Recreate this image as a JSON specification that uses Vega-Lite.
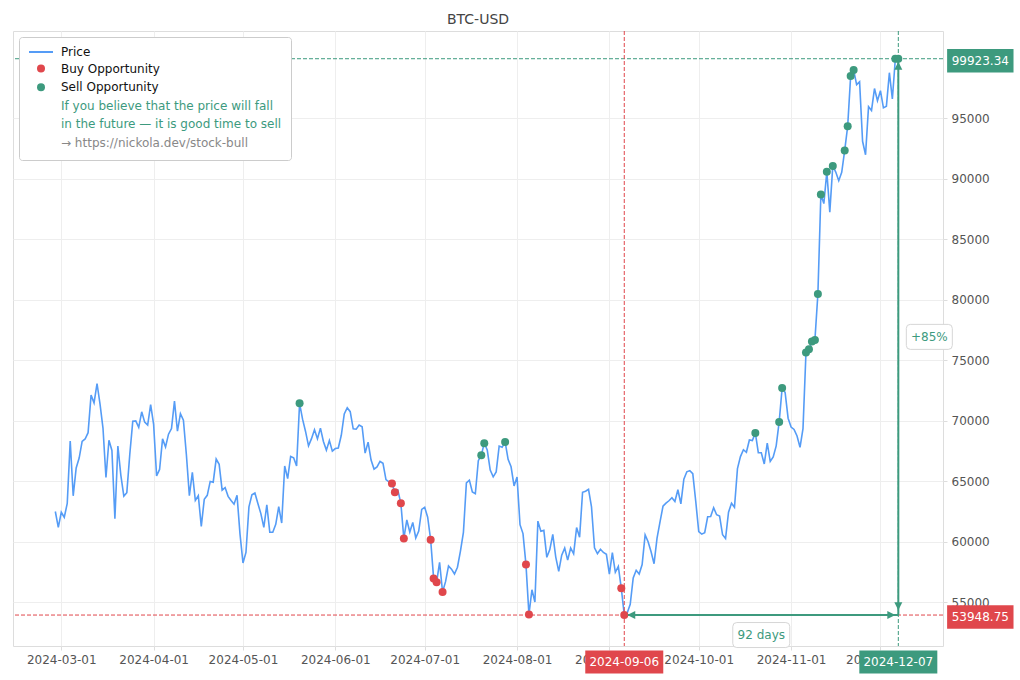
{
  "$schema": "https://vega.github.io/schema/vega-lite/v6.json",
  "width": 930,
  "height": 615,
  "autosize": "none",
  "padding": {"left": 13, "top": 31, "right": 77, "bottom": 34},
  "background": "white",
  "title": {"text": "BTC-USD", "fontSize": 14, "fontWeight": "normal", "color": "#444444", "offset": 4, "anchor": "middle", "font": "DejaVu Sans"},
  "config": {
    "font": "DejaVu Sans",
    "view": {"stroke": "#dddddd"},
    "axis": {"gridColor": "#eeeeee", "domain": false, "tickColor": "#dddddd", "labelColor": "#555555", "labelFontSize": 12, "tickSize": 4, "labelPadding": 4, "title": null}
  },
  "datasets": {
    "btc": [
      {"date": "2024-02-28", "price": 62504}, {"date": "2024-02-29", "price": 61198},
      {"date": "2024-03-01", "price": 62440}, {"date": "2024-03-02", "price": 62029}, {"date": "2024-03-03", "price": 63167}, {"date": "2024-03-04", "price": 68330}, {"date": "2024-03-05", "price": 63801}, {"date": "2024-03-06", "price": 66106}, {"date": "2024-03-07", "price": 66925}, {"date": "2024-03-08", "price": 68300}, {"date": "2024-03-09", "price": 68498}, {"date": "2024-03-10", "price": 69019}, {"date": "2024-03-11", "price": 72123}, {"date": "2024-03-12", "price": 71481}, {"date": "2024-03-13", "price": 73083}, {"date": "2024-03-14", "price": 71397}, {"date": "2024-03-15", "price": 69403}, {"date": "2024-03-16", "price": 65316}, {"date": "2024-03-17", "price": 68390}, {"date": "2024-03-18", "price": 67548}, {"date": "2024-03-19", "price": 61912}, {"date": "2024-03-20", "price": 67913}, {"date": "2024-03-21", "price": 65491}, {"date": "2024-03-22", "price": 63779}, {"date": "2024-03-23", "price": 64062}, {"date": "2024-03-24", "price": 67234}, {"date": "2024-03-25", "price": 69958}, {"date": "2024-03-26", "price": 69987}, {"date": "2024-03-27", "price": 69455}, {"date": "2024-03-28", "price": 70744}, {"date": "2024-03-29", "price": 69892}, {"date": "2024-03-30", "price": 69645}, {"date": "2024-03-31", "price": 71333},
      {"date": "2024-04-01", "price": 69702}, {"date": "2024-04-02", "price": 65446}, {"date": "2024-04-03", "price": 65980}, {"date": "2024-04-04", "price": 68508}, {"date": "2024-04-05", "price": 67837}, {"date": "2024-04-06", "price": 68896}, {"date": "2024-04-07", "price": 69362}, {"date": "2024-04-08", "price": 71631}, {"date": "2024-04-09", "price": 69139}, {"date": "2024-04-10", "price": 70587}, {"date": "2024-04-11", "price": 70060}, {"date": "2024-04-12", "price": 67195}, {"date": "2024-04-13", "price": 63821}, {"date": "2024-04-14", "price": 65738}, {"date": "2024-04-15", "price": 63426}, {"date": "2024-04-16", "price": 63811}, {"date": "2024-04-17", "price": 61276}, {"date": "2024-04-18", "price": 63512}, {"date": "2024-04-19", "price": 63843}, {"date": "2024-04-20", "price": 64994}, {"date": "2024-04-21", "price": 64927}, {"date": "2024-04-22", "price": 66837}, {"date": "2024-04-23", "price": 66407}, {"date": "2024-04-24", "price": 64276}, {"date": "2024-04-25", "price": 64482}, {"date": "2024-04-26", "price": 63755}, {"date": "2024-04-27", "price": 63419}, {"date": "2024-04-28", "price": 63114}, {"date": "2024-04-29", "price": 63842}, {"date": "2024-04-30", "price": 60637},
      {"date": "2024-05-01", "price": 58254}, {"date": "2024-05-02", "price": 59123}, {"date": "2024-05-03", "price": 62889}, {"date": "2024-05-04", "price": 63892}, {"date": "2024-05-05", "price": 64031}, {"date": "2024-05-06", "price": 63161}, {"date": "2024-05-07", "price": 62334}, {"date": "2024-05-08", "price": 61188}, {"date": "2024-05-09", "price": 63049}, {"date": "2024-05-10", "price": 60792}, {"date": "2024-05-11", "price": 60793}, {"date": "2024-05-12", "price": 61448}, {"date": "2024-05-13", "price": 62901}, {"date": "2024-05-14", "price": 61553}, {"date": "2024-05-15", "price": 66267}, {"date": "2024-05-16", "price": 65231}, {"date": "2024-05-17", "price": 67051}, {"date": "2024-05-18", "price": 66940}, {"date": "2024-05-19", "price": 66278}, {"date": "2024-05-20", "price": 71448, "signal": "Sell Opportunity"}, {"date": "2024-05-21", "price": 70136}, {"date": "2024-05-22", "price": 69122}, {"date": "2024-05-23", "price": 67929}, {"date": "2024-05-24", "price": 68526}, {"date": "2024-05-25", "price": 69265}, {"date": "2024-05-26", "price": 68518}, {"date": "2024-05-27", "price": 69394}, {"date": "2024-05-28", "price": 68296}, {"date": "2024-05-29", "price": 67578}, {"date": "2024-05-30", "price": 68365}, {"date": "2024-05-31", "price": 67491},
      {"date": "2024-06-01", "price": 67706}, {"date": "2024-06-02", "price": 67751}, {"date": "2024-06-03", "price": 68804}, {"date": "2024-06-04", "price": 70567}, {"date": "2024-06-05", "price": 71082}, {"date": "2024-06-06", "price": 70757}, {"date": "2024-06-07", "price": 69342}, {"date": "2024-06-08", "price": 69305}, {"date": "2024-06-09", "price": 69648}, {"date": "2024-06-10", "price": 69512}, {"date": "2024-06-11", "price": 67332}, {"date": "2024-06-12", "price": 68242}, {"date": "2024-06-13", "price": 66757}, {"date": "2024-06-14", "price": 66011}, {"date": "2024-06-15", "price": 66191}, {"date": "2024-06-16", "price": 66639}, {"date": "2024-06-17", "price": 66490}, {"date": "2024-06-18", "price": 65140}, {"date": "2024-06-19", "price": 64960}, {"date": "2024-06-20", "price": 64828, "signal": "Buy Opportunity"}, {"date": "2024-06-21", "price": 64096, "signal": "Buy Opportunity"}, {"date": "2024-06-22", "price": 64252}, {"date": "2024-06-23", "price": 63180, "signal": "Buy Opportunity"}, {"date": "2024-06-24", "price": 60277, "signal": "Buy Opportunity"}, {"date": "2024-06-25", "price": 61804}, {"date": "2024-06-26", "price": 60811}, {"date": "2024-06-27", "price": 61604}, {"date": "2024-06-28", "price": 60320}, {"date": "2024-06-29", "price": 60887}, {"date": "2024-06-30", "price": 62678},
      {"date": "2024-07-01", "price": 62851}, {"date": "2024-07-02", "price": 62029}, {"date": "2024-07-03", "price": 60173, "signal": "Buy Opportunity"}, {"date": "2024-07-04", "price": 56977, "signal": "Buy Opportunity"}, {"date": "2024-07-05", "price": 56662, "signal": "Buy Opportunity"}, {"date": "2024-07-06", "price": 58303}, {"date": "2024-07-07", "price": 55849, "signal": "Buy Opportunity"}, {"date": "2024-07-08", "price": 56705}, {"date": "2024-07-09", "price": 58009}, {"date": "2024-07-10", "price": 57742}, {"date": "2024-07-11", "price": 57344}, {"date": "2024-07-12", "price": 57899}, {"date": "2024-07-13", "price": 59231}, {"date": "2024-07-14", "price": 60787}, {"date": "2024-07-15", "price": 64870}, {"date": "2024-07-16", "price": 65097}, {"date": "2024-07-17", "price": 64118}, {"date": "2024-07-18", "price": 63974}, {"date": "2024-07-19", "price": 66710}, {"date": "2024-07-20", "price": 67163, "signal": "Sell Opportunity"}, {"date": "2024-07-21", "price": 68154, "signal": "Sell Opportunity"}, {"date": "2024-07-22", "price": 67585}, {"date": "2024-07-23", "price": 65927}, {"date": "2024-07-24", "price": 65372}, {"date": "2024-07-25", "price": 65777}, {"date": "2024-07-26", "price": 67912}, {"date": "2024-07-27", "price": 67813}, {"date": "2024-07-28", "price": 68255, "signal": "Sell Opportunity"}, {"date": "2024-07-29", "price": 66819}, {"date": "2024-07-30", "price": 66201}, {"date": "2024-07-31", "price": 64619},
      {"date": "2024-08-01", "price": 65357}, {"date": "2024-08-02", "price": 61415}, {"date": "2024-08-03", "price": 60680}, {"date": "2024-08-04", "price": 58116, "signal": "Buy Opportunity"}, {"date": "2024-08-05", "price": 53991, "signal": "Buy Opportunity"}, {"date": "2024-08-06", "price": 56034}, {"date": "2024-08-07", "price": 55027}, {"date": "2024-08-08", "price": 61710}, {"date": "2024-08-09", "price": 60880}, {"date": "2024-08-10", "price": 60945}, {"date": "2024-08-11", "price": 58719}, {"date": "2024-08-12", "price": 59354}, {"date": "2024-08-13", "price": 60609}, {"date": "2024-08-14", "price": 58737}, {"date": "2024-08-15", "price": 57560}, {"date": "2024-08-16", "price": 58894}, {"date": "2024-08-17", "price": 59478}, {"date": "2024-08-18", "price": 58483}, {"date": "2024-08-19", "price": 59493}, {"date": "2024-08-20", "price": 59012}, {"date": "2024-08-21", "price": 61175}, {"date": "2024-08-22", "price": 60381}, {"date": "2024-08-23", "price": 64094}, {"date": "2024-08-24", "price": 64178}, {"date": "2024-08-25", "price": 64333}, {"date": "2024-08-26", "price": 62880}, {"date": "2024-08-27", "price": 59504}, {"date": "2024-08-28", "price": 59027}, {"date": "2024-08-29", "price": 59389}, {"date": "2024-08-30", "price": 59119}, {"date": "2024-08-31", "price": 58969},
      {"date": "2024-09-01", "price": 57326}, {"date": "2024-09-02", "price": 59113}, {"date": "2024-09-03", "price": 57485}, {"date": "2024-09-04", "price": 57970}, {"date": "2024-09-05", "price": 56160, "signal": "Buy Opportunity"}, {"date": "2024-09-06", "price": 53948.75, "signal": "Buy Opportunity"}, {"date": "2024-09-07", "price": 54139}, {"date": "2024-09-08", "price": 54841}, {"date": "2024-09-09", "price": 57019}, {"date": "2024-09-10", "price": 57648}, {"date": "2024-09-11", "price": 57343}, {"date": "2024-09-12", "price": 58127}, {"date": "2024-09-13", "price": 60571}, {"date": "2024-09-14", "price": 60005}, {"date": "2024-09-15", "price": 59182}, {"date": "2024-09-16", "price": 58192}, {"date": "2024-09-17", "price": 60309}, {"date": "2024-09-18", "price": 61649}, {"date": "2024-09-19", "price": 62940}, {"date": "2024-09-20", "price": 63192}, {"date": "2024-09-21", "price": 63394}, {"date": "2024-09-22", "price": 63648}, {"date": "2024-09-23", "price": 63329}, {"date": "2024-09-24", "price": 64301}, {"date": "2024-09-25", "price": 63143}, {"date": "2024-09-26", "price": 65181}, {"date": "2024-09-27", "price": 65790}, {"date": "2024-09-28", "price": 65887}, {"date": "2024-09-29", "price": 65635}, {"date": "2024-09-30", "price": 63330},
      {"date": "2024-10-01", "price": 60837}, {"date": "2024-10-02", "price": 60632}, {"date": "2024-10-03", "price": 60759}, {"date": "2024-10-04", "price": 62067}, {"date": "2024-10-05", "price": 62089}, {"date": "2024-10-06", "price": 62818}, {"date": "2024-10-07", "price": 62236}, {"date": "2024-10-08", "price": 62131}, {"date": "2024-10-09", "price": 60582}, {"date": "2024-10-10", "price": 60275}, {"date": "2024-10-11", "price": 62445}, {"date": "2024-10-12", "price": 63193}, {"date": "2024-10-13", "price": 62851}, {"date": "2024-10-14", "price": 66046}, {"date": "2024-10-15", "price": 67041}, {"date": "2024-10-16", "price": 67612}, {"date": "2024-10-17", "price": 67399}, {"date": "2024-10-18", "price": 68418}, {"date": "2024-10-19", "price": 68362}, {"date": "2024-10-20", "price": 69001, "signal": "Sell Opportunity"}, {"date": "2024-10-21", "price": 67367}, {"date": "2024-10-22", "price": 67361}, {"date": "2024-10-23", "price": 66432}, {"date": "2024-10-24", "price": 68161}, {"date": "2024-10-25", "price": 66642}, {"date": "2024-10-26", "price": 67014}, {"date": "2024-10-27", "price": 67929}, {"date": "2024-10-28", "price": 69907, "signal": "Sell Opportunity"}, {"date": "2024-10-29", "price": 72720, "signal": "Sell Opportunity"}, {"date": "2024-10-30", "price": 72339}, {"date": "2024-10-31", "price": 70215},
      {"date": "2024-11-01", "price": 69482}, {"date": "2024-11-02", "price": 69289}, {"date": "2024-11-03", "price": 68741}, {"date": "2024-11-04", "price": 67811}, {"date": "2024-11-05", "price": 69359}, {"date": "2024-11-06", "price": 75639, "signal": "Sell Opportunity"}, {"date": "2024-11-07", "price": 75904, "signal": "Sell Opportunity"}, {"date": "2024-11-08", "price": 76545, "signal": "Sell Opportunity"}, {"date": "2024-11-09", "price": 76677, "signal": "Sell Opportunity"}, {"date": "2024-11-10", "price": 80474, "signal": "Sell Opportunity"}, {"date": "2024-11-11", "price": 88701, "signal": "Sell Opportunity"}, {"date": "2024-11-12", "price": 87955}, {"date": "2024-11-13", "price": 90585, "signal": "Sell Opportunity"}, {"date": "2024-11-14", "price": 87250}, {"date": "2024-11-15", "price": 91066, "signal": "Sell Opportunity"}, {"date": "2024-11-16", "price": 90558}, {"date": "2024-11-17", "price": 89845}, {"date": "2024-11-18", "price": 90542}, {"date": "2024-11-19", "price": 92343, "signal": "Sell Opportunity"}, {"date": "2024-11-20", "price": 94339, "signal": "Sell Opportunity"}, {"date": "2024-11-21", "price": 98504, "signal": "Sell Opportunity"}, {"date": "2024-11-22", "price": 98997, "signal": "Sell Opportunity"}, {"date": "2024-11-23", "price": 97777}, {"date": "2024-11-24", "price": 98013}, {"date": "2024-11-25", "price": 93102}, {"date": "2024-11-26", "price": 91985}, {"date": "2024-11-27", "price": 95962}, {"date": "2024-11-28", "price": 95652}, {"date": "2024-11-29", "price": 97461}, {"date": "2024-11-30", "price": 96449},
      {"date": "2024-12-01", "price": 97279}, {"date": "2024-12-02", "price": 95865}, {"date": "2024-12-03", "price": 96002}, {"date": "2024-12-04", "price": 98768}, {"date": "2024-12-05", "price": 96593}, {"date": "2024-12-06", "price": 99920.71, "signal": "Sell Opportunity"}, {"date": "2024-12-07", "price": 99923.34, "signal": "Sell Opportunity"}
    ],
    "move": [
      {"start": "2024-09-06", "end": "2024-12-07", "start_text": "2024-09-06", "end_text": "2024-12-07", "low": 53948.75, "high": 99923.34, "mid_price": 76936, "mid_date": "2024-10-22", "change": "+85%", "days": "92 days"}
    ]
  },
  "encoding": {
    "x": {"type": "temporal", "scale": {"type": "utc", "domain": [{"year": 2024, "month": 2, "date": 13, "hours": 19, "utc": true}, {"year": 2024, "month": 12, "date": 22, "utc": true}]},
      "axis": {"orient": "bottom", "format": "%Y-%m-%d", "labelAngle": 0, "labelFlush": false, "labelOverlap": false,
        "values": [{"year": 2024, "month": 3, "date": 1, "utc": true}, {"year": 2024, "month": 4, "date": 1, "utc": true}, {"year": 2024, "month": 5, "date": 1, "utc": true}, {"year": 2024, "month": 6, "date": 1, "utc": true}, {"year": 2024, "month": 7, "date": 1, "utc": true}, {"year": 2024, "month": 8, "date": 1, "utc": true}, {"year": 2024, "month": 9, "date": 1, "utc": true}, {"year": 2024, "month": 10, "date": 1, "utc": true}, {"year": 2024, "month": 11, "date": 1, "utc": true}, {"year": 2024, "month": 12, "date": 1, "utc": true}]}},
    "y": {"type": "quantitative", "scale": {"domain": [51390, 102215], "nice": false, "zero": false},
      "axis": {"orient": "right", "format": "d", "values": [55000, 60000, 65000, 70000, 75000, 80000, 85000, 90000, 95000]}}
  },
  "layer": [
    {
      "data": {"name": "btc"},
      "mark": {"type": "line", "color": "#559cf6", "strokeWidth": 1.6},
      "encoding": {"x": {"field": "date"}, "y": {"field": "price"}}
    },
    {
      "data": {"name": "move"},
      "mark": {"type": "rule", "color": "#3d9a7e", "strokeWidth": 1, "strokeDash": [4, 2]},
      "encoding": {"y": {"field": "high"}, "x": null}
    },
    {
      "data": {"name": "move"},
      "mark": {"type": "rule", "color": "#e0474c", "strokeWidth": 1, "strokeDash": [4, 2]},
      "encoding": {"y": {"field": "low"}, "x": null}
    },
    {
      "data": {"name": "move"},
      "mark": {"type": "rule", "color": "#e0474c", "strokeWidth": 1, "strokeDash": [4, 2]},
      "encoding": {"x": {"field": "start"}, "y": null}
    },
    {
      "data": {"name": "move"},
      "mark": {"type": "rule", "color": "#3d9a7e", "strokeWidth": 1, "strokeDash": [4, 2]},
      "encoding": {"x": {"field": "end"}, "y": null}
    },
    {
      "data": {"name": "move"},
      "mark": {"type": "rule", "color": "#3d9a7e", "strokeWidth": 2},
      "encoding": {"x": {"field": "end"}, "y": {"field": "low"}, "y2": {"field": "high"}}
    },
    {
      "data": {"name": "move"},
      "mark": {"type": "rule", "color": "#3d9a7e", "strokeWidth": 2},
      "encoding": {"x": {"field": "start"}, "x2": {"field": "end"}, "y": {"field": "low"}}
    },
    {
      "data": {"name": "btc"},
      "transform": [{"filter": "datum.signal"}],
      "mark": {"type": "circle", "size": 64, "opacity": 1},
      "encoding": {
        "x": {"field": "date"},
        "y": {"field": "price"},
        "color": {"field": "signal", "type": "nominal",
          "scale": {"domain": ["Price", "Buy Opportunity", "Sell Opportunity", "If you believe that the price will fall", "in the future — it is good time to sell", "→ https://nickola.dev/stock-bull"],
                    "range": ["#559cf6", "#e0474c", "#3d9a7e", "transparent", "transparent", "transparent"]},
          "legend": {"title": null, "orient": "top-left", "offset": 6, "padding": 9, "fillColor": "white", "strokeColor": "#cccccc", "cornerRadius": 3,
            "labelFontSize": 12, "labelLimit": 400, "rowPadding": 2.6, "symbolSize": 64, "symbolStrokeWidth": 2, "symbolOffset": 7, "labelOffset": 14,
            "labelColor": {"expr": "datum.value == 'If you believe that the price will fall' || datum.value == 'in the future — it is good time to sell' ? '#3d9a7e' : (datum.value == '→ https://nickola.dev/stock-bull' ? '#888888' : '#111111')"},
            "symbolType": {"expr": "datum.value == 'Price' ? 'M-3,0L3,0' : 'circle'"},
            "symbolStrokeColor": {"expr": "datum.value == 'Price' ? '#559cf6' : 'transparent'"}}}
      }
    },
    {
      "data": {"name": "move"},
      "mark": {"type": "point", "filled": true, "opacity": 1, "color": "#3d9a7e", "size": 64, "shape": "M0,0.75L-1,2.75L1,2.75Z"},
      "encoding": {"x": {"field": "end"}, "y": {"field": "high"}}
    },
    {
      "data": {"name": "move"},
      "mark": {"type": "point", "filled": true, "opacity": 1, "color": "#3d9a7e", "size": 64, "shape": "M0,-1.2L-1,-3.2L1,-3.2Z"},
      "encoding": {"x": {"field": "end"}, "y": {"field": "low"}}
    },
    {
      "data": {"name": "move"},
      "mark": {"type": "point", "filled": true, "opacity": 1, "color": "#3d9a7e", "size": 64, "shape": "M0.75,0L2.75,-1L2.75,1Z"},
      "encoding": {"x": {"field": "start"}, "y": {"field": "low"}}
    },
    {
      "data": {"name": "move"},
      "mark": {"type": "point", "filled": true, "opacity": 1, "color": "#3d9a7e", "size": 64, "shape": "M-0.75,0L-2.75,-1L-2.75,1Z"},
      "encoding": {"x": {"field": "end"}, "y": {"field": "low"}}
    },
    {
      "data": {"name": "move"},
      "mark": {"type": "point", "filled": true, "opacity": 1, "color": "white", "stroke": "#d6d6d6", "strokeWidth": 1, "size": 400, "xOffset": 31,
        "shape": "M-1.9,-1.25L1.9,-1.25Q2.3,-1.25 2.3,-0.85L2.3,0.85Q2.3,1.25 1.9,1.25L-1.9,1.25Q-2.3,1.25 -2.3,0.85L-2.3,-0.85Q-2.3,-1.25 -1.9,-1.25Z"},
      "encoding": {"x": {"field": "end"}, "y": {"field": "mid_price"}}
    },
    {
      "data": {"name": "move"},
      "mark": {"type": "text", "color": "#3d9a7e", "fontSize": 12, "align": "center", "baseline": "middle", "xOffset": 31},
      "encoding": {"x": {"field": "end"}, "y": {"field": "mid_price"}, "text": {"field": "change"}}
    },
    {
      "data": {"name": "move"},
      "mark": {"type": "point", "filled": true, "opacity": 1, "color": "white", "stroke": "#d6d6d6", "strokeWidth": 1, "size": 400, "yOffset": 20,
        "shape": "M-2.45,-1.25L2.45,-1.25Q2.85,-1.25 2.85,-0.85L2.85,0.85Q2.85,1.25 2.45,1.25L-2.45,1.25Q-2.85,1.25 -2.85,0.85L-2.85,-0.85Q-2.85,-1.25 -2.45,-1.25Z"},
      "encoding": {"x": {"field": "mid_date"}, "y": {"field": "low"}}
    },
    {
      "data": {"name": "move"},
      "mark": {"type": "text", "color": "#3d9a7e", "fontSize": 12, "align": "center", "baseline": "middle", "yOffset": 20},
      "encoding": {"x": {"field": "mid_date"}, "y": {"field": "low"}, "text": {"field": "days"}}
    },
    {
      "data": {"name": "move"},
      "mark": {"type": "point", "filled": true, "opacity": 1, "color": "#3d9a7e", "size": 400, "xOffset": 82, "yOffset": 2,
        "shape": "M-3.32,-1.17L3.32,-1.17L3.32,1.17L-3.32,1.17Z"},
      "encoding": {"x": {"field": "end"}, "y": {"field": "high"}}
    },
    {
      "data": {"name": "move"},
      "mark": {"type": "text", "color": "white", "fontSize": 12, "align": "center", "baseline": "middle", "xOffset": 82, "yOffset": 2},
      "encoding": {"x": {"field": "end"}, "y": {"field": "high"}, "text": {"field": "high", "type": "quantitative", "format": ".2f"}}
    },
    {
      "data": {"name": "move"},
      "mark": {"type": "point", "filled": true, "opacity": 1, "color": "#e0474c", "size": 400, "xOffset": 82, "yOffset": 2,
        "shape": "M-3.32,-1.17L3.32,-1.17L3.32,1.17L-3.32,1.17Z"},
      "encoding": {"x": {"field": "end"}, "y": {"field": "low"}}
    },
    {
      "data": {"name": "move"},
      "mark": {"type": "text", "color": "white", "fontSize": 12, "align": "center", "baseline": "middle", "xOffset": 82, "yOffset": 2},
      "encoding": {"x": {"field": "end"}, "y": {"field": "low"}, "text": {"field": "low", "type": "quantitative", "format": ".2f"}}
    },
    {
      "data": {"name": "move"},
      "mark": {"type": "point", "filled": true, "opacity": 1, "color": "#e0474c", "size": 400, "yOffset": 47,
        "shape": "M-3.9,-1.15L3.9,-1.15L3.9,1.15L-3.9,1.15Z"},
      "encoding": {"x": {"field": "start"}, "y": {"field": "low"}}
    },
    {
      "data": {"name": "move"},
      "mark": {"type": "text", "color": "white", "fontSize": 12, "align": "center", "baseline": "middle", "yOffset": 47},
      "encoding": {"x": {"field": "start"}, "y": {"field": "low"}, "text": {"field": "start_text", "type": "nominal"}}
    },
    {
      "data": {"name": "move"},
      "mark": {"type": "point", "filled": true, "opacity": 1, "color": "#3d9a7e", "size": 400, "yOffset": 47,
        "shape": "M-3.9,-1.15L3.9,-1.15L3.9,1.15L-3.9,1.15Z"},
      "encoding": {"x": {"field": "end"}, "y": {"field": "low"}}
    },
    {
      "data": {"name": "move"},
      "mark": {"type": "text", "color": "white", "fontSize": 12, "align": "center", "baseline": "middle", "yOffset": 47},
      "encoding": {"x": {"field": "end"}, "y": {"field": "low"}, "text": {"field": "end_text", "type": "nominal"}}
    }
  ]
}
